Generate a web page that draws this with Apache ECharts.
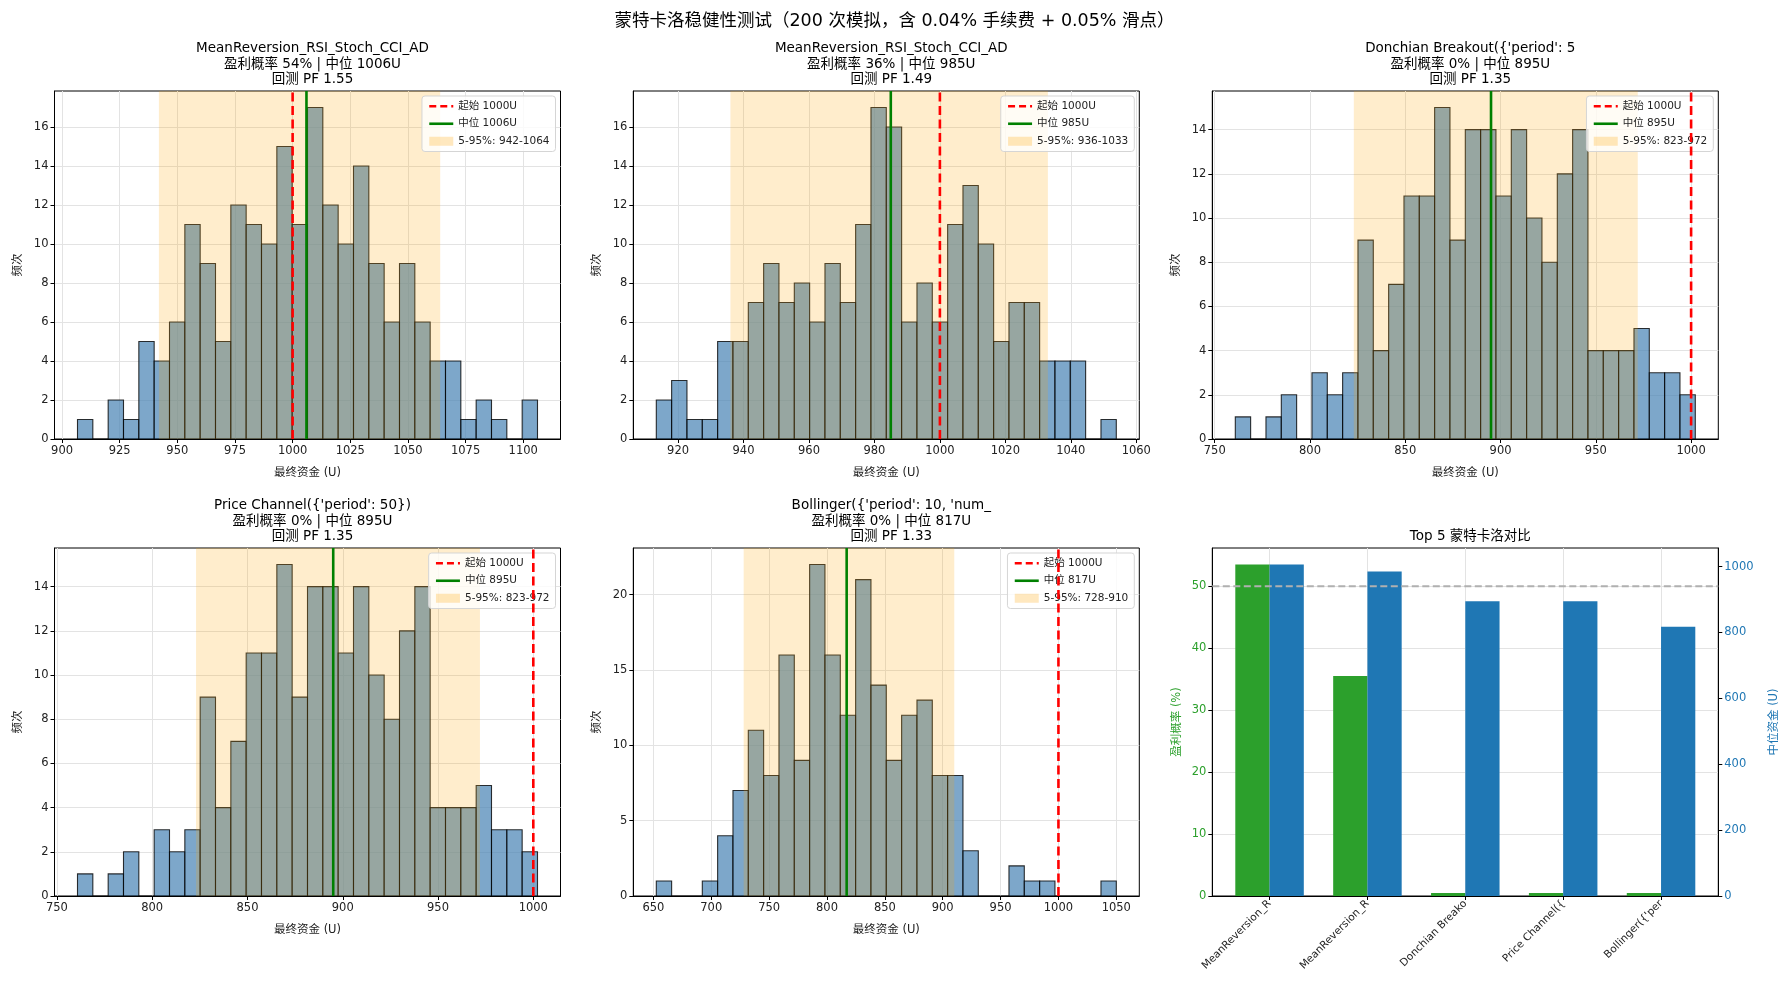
<!DOCTYPE html>
<html><head><meta charset="utf-8">
<script src="https://cdn.jsdelivr.net/npm/echarts@6/dist/echarts.min.js"></script>
<style>html,body{margin:0;padding:0;background:#fff}#c{width:1789px;height:985px}</style>
</head><body><div id="c"></div>
<script>
// ---------------- data ----------------
const suptitle = '蒙特卡洛稳健性测试（200 次模拟，含 0.04% 手续费 + 0.05% 滑点）';

const p1Title = ['MeanReversion_RSI_Stoch_CCI_AD', '盈利概率 54% | 中位 1006U', '回测 PF 1.55'];
const p1Counts = [1,0,2,1,5,4,6,11,9,5,12,11,10,15,11,17,12,10,14,9,6,9,6,4,4,1,2,1,0,2];
const p1BinRange = [906.7, 1106.2];
const p1Median = 1006, p1Band = [942, 1064];
const p1XTicks = [900,925,950,975,1000,1025,1050,1075,1100];
const p1YTicks = [0,2,4,6,8,10,12,14,16];

const p2Title = ['MeanReversion_RSI_Stoch_CCI_AD', '盈利概率 36% | 中位 985U', '回测 PF 1.49'];
const p2Counts = [2,3,1,1,5,5,7,9,7,8,6,9,7,11,17,16,6,8,6,11,13,10,5,7,7,4,4,4,0,1];
const p2BinRange = [913.35, 1053.9];
const p2Median = 985, p2Band = [936, 1033];
const p2XTicks = [920,940,960,980,1000,1020,1040,1060];
const p2YTicks = [0,2,4,6,8,10,12,14,16];

const p3Title = ["Donchian Breakout({'period': 5", '盈利概率 0% | 中位 895U', '回测 PF 1.35'];
const p3Counts = [1,0,1,2,0,3,2,3,9,4,7,11,11,15,9,14,14,11,14,10,8,12,14,4,4,4,5,3,3,2];
const p3BinRange = [760.8, 1002.2];
const p3Median = 895, p3Band = [823, 972];
const p3XTicks = [750,800,850,900,950,1000];
const p3YTicks = [0,2,4,6,8,10,12,14];

const p4Title = ["Price Channel({'period': 50})", '盈利概率 0% | 中位 895U', '回测 PF 1.35'];
const p4Counts = [1,0,1,2,0,3,2,3,9,4,7,11,11,15,9,14,14,11,14,10,8,12,14,4,4,4,5,3,3,2];
const p4BinRange = [760.8, 1002.2];
const p4Median = 895, p4Band = [823, 972];
const p4XTicks = [750,800,850,900,950,1000];
const p4YTicks = [0,2,4,6,8,10,12,14];

const p5Title = ["Bollinger({'period': 10, 'num_", '盈利概率 0% | 中位 817U', '回测 PF 1.33'];
const p5Counts = [1,0,0,1,4,7,11,8,16,9,22,16,12,21,14,9,12,13,8,8,3,0,0,2,1,1,0,0,0,1];
const p5BinRange = [652.5, 1050];
const p5Median = 817, p5Band = [728, 910];
const p5XTicks = [650,700,750,800,850,900,950,1000,1050];
const p5YTicks = [0,5,10,15,20];

const startCapital = 1000;

const cmpTitle = 'Top 5 蒙特卡洛对比';
const cmpNames = ['MeanReversion_R', 'MeanReversion_R', 'Donchian Breako', 'Price Channel({', "Bollinger({'per"];
const cmpWinRate = [53.5, 35.5, 0.5, 0.5, 0.5];
const cmpMedian = [1006, 985, 895, 895, 817];
const cmpWinTicks = [0,10,20,30,40,50];
const cmpMedTicks = [0,200,400,600,800,1000];
const cmpRefLine = 50;

// ---------------- layout ----------------
const W = 1789, H = 985;
const FONT = 'DejaVu Sans, Noto Sans CJK SC, sans-serif';
const gridsPx = [
  {left:54.5, top:91, width:506, height:348},
  {left:633.3, top:91, width:506, height:348},
  {left:1212.3, top:91, width:506, height:348},
  {left:54.5, top:548, width:506, height:348},
  {left:633.3, top:548, width:506, height:348},
  {left:1212.3, top:548, width:506, height:348}
];

const panels = [
  {title:p1Title, counts:p1Counts, range:p1BinRange, median:p1Median, band:p1Band, xt:p1XTicks, yt:p1YTicks},
  {title:p2Title, counts:p2Counts, range:p2BinRange, median:p2Median, band:p2Band, xt:p2XTicks, yt:p2YTicks},
  {title:p3Title, counts:p3Counts, range:p3BinRange, median:p3Median, band:p3Band, xt:p3XTicks, yt:p3YTicks},
  {title:p4Title, counts:p4Counts, range:p4BinRange, median:p4Median, band:p4Band, xt:p4XTicks, yt:p4YTicks},
  {title:p5Title, counts:p5Counts, range:p5BinRange, median:p5Median, band:p5Band, xt:p5XTicks, yt:p5YTicks}
];

const tickFs = 11.5;
const grid = [], xAxis = [], yAxis = [], series = [], legend = [];
const title = [{text: suptitle, left:'center', top:8, textStyle:{fontSize:17.5, fontWeight:'normal', color:'#000', fontFamily:FONT}}];

function valAxisBase(gi, min, max, ticks) {
  return {
    gridIndex: gi, type:'value', min, max,
    axisLine:{show:true, onZero:false, lineStyle:{color:'#000', width:1}},
    axisTick:{show:true, customValues:ticks, length:4, lineStyle:{color:'#000'}},
    axisLabel:{customValues:ticks, fontSize:tickFs, color:'#222', fontFamily:FONT, margin:6, formatter:v=>String(v)},
    splitLine:{show:true, lineStyle:{color:'#e3e3e3', width:1}}
  };
}

function histRender(params, api) {
  const a = api.coord([api.value(0), api.value(2)]);
  const b = api.coord([api.value(1), 0]);
  return {type:'rect', shape:{x:a[0], y:a[1], width:b[0]-a[0], height:b[1]-a[1]},
    style:{fill:'rgba(70,130,180,0.7)', stroke:'rgba(0,0,0,0.8)', lineWidth:1.1}};
}
function bandRender(params, api) {
  const cs = params.coordSys;
  const a = api.coord([api.value(0), 0]);
  const b = api.coord([api.value(1), 0]);
  return {type:'rect', shape:{x:a[0], y:cs.y, width:b[0]-a[0], height:cs.height},
    style:{fill:'rgba(255,165,0,0.2)'}};
}

panels.forEach((p, i) => {
  const g = gridsPx[i];
  grid.push({left:g.left, top:g.top, width:g.width, height:g.height, show:true, borderColor:'#000', borderWidth:1, backgroundColor:'transparent'});
  const span = p.range[1] - p.range[0];
  const xmin = p.range[0] - span*0.05, xmax = p.range[1] + span*0.05;
  const ymax = Math.max(...p.counts) * 1.05;
  const xa = valAxisBase(i, xmin, xmax, p.xt);
  xa.name = '最终资金 (U)'; xa.nameLocation = 'middle'; xa.nameGap = 28;
  xa.nameTextStyle = {fontSize:11.5, color:'#222', fontFamily:FONT};
  xAxis.push(xa);
  const ya = valAxisBase(i, 0, ymax, p.yt);
  ya.name = '频次'; ya.nameLocation = 'middle'; ya.nameGap = 31; ya.nameRotate = 90;
  ya.nameTextStyle = {fontSize:11.5, color:'#222', fontFamily:FONT};
  yAxis.push(ya);

  const w = span / p.counts.length;
  const binData = p.counts.map((c, k) => [p.range[0] + k*w, p.range[0] + (k+1)*w, c]);
  series.push({type:'custom', name:'hist'+i, xAxisIndex:i, yAxisIndex:i, z:2, renderItem:histRender,
    encode:{x:[0,1], y:2}, data:binData, silent:true});
  const bandName = '5-95%: ' + p.band[0] + '-' + p.band[1];
  series.push({type:'custom', name:bandName, xAxisIndex:i, yAxisIndex:i, z:3, renderItem:bandRender,
    encode:{x:[0,1]}, data:[[p.band[0], p.band[1]]], itemStyle:{color:'rgba(255,165,0,0.25)'}, silent:true});
  const startName = '起始 ' + startCapital + 'U';
  series.push({type:'line', name:startName, xAxisIndex:i, yAxisIndex:i, z:5, symbol:'none',
    data:[[startCapital, 0], [startCapital, ymax]], lineStyle:{color:'#ff0000', width:2.6, type:[9,4.5]},
    itemStyle:{color:'#ff0000'}, silent:true});
  const medName = '中位 ' + p.median + 'U';
  series.push({type:'line', name:medName, xAxisIndex:i, yAxisIndex:i, z:4, symbol:'none',
    data:[[p.median, 0], [p.median, ymax]], lineStyle:{color:'#008000', width:2.6},
    itemStyle:{color:'#008000'}, silent:true});

  legend.push({orient:'vertical', right: W - (g.left + g.width - 5), top: g.top + 5,
    selectedMode:false, itemWidth:24, itemHeight:9, itemGap:7,
    backgroundColor:'rgba(255,255,255,0.8)', borderColor:'#d5d5d5', borderWidth:1, borderRadius:3,
    padding:[5,6,5,6],
    textStyle:{fontSize:10.5, color:'#222', fontFamily:FONT},
    data:[
      {name:startName, itemStyle:{opacity:0}, lineStyle:{color:'#ff0000', width:2.6, type:[7,4]}},
      {name:medName, itemStyle:{opacity:0}, lineStyle:{color:'#008000', width:2.6, type:'solid'}},
      {name:bandName, icon:'rect', itemStyle:{color:'rgba(255,165,0,0.25)'}}
    ]});

  title.push({text:p.title.join('\n'), left: g.left + g.width/2, top: g.top - 55, textAlign:'center',
    textStyle:{fontSize:13.5, fontWeight:'normal', lineHeight:15.5, color:'#000', fontFamily:FONT}});
});

// ---------------- comparison panel ----------------
{
  const gi = 5, g = gridsPx[gi];
  grid.push({left:g.left, top:g.top, width:g.width, height:g.height, show:true, borderColor:'#000', borderWidth:1, backgroundColor:'transparent'});
  const idx = cmpNames.map((_, i) => i);
  const xa = valAxisBase(gi, -0.585, cmpNames.length - 1 + 0.585, idx);
  xa.axisLabel.formatter = v => cmpNames[Math.round(v)];
  xa.axisLabel.rotate = 45; xa.axisLabel.fontSize = 10.5; xa.axisLabel.margin = 6;
  xAxis.push(xa);
  const yl = valAxisBase(gi, 0, Math.max(...cmpWinRate) * 1.05, cmpWinTicks);
  yl.axisLabel.color = '#2ca02c';
  yl.name = '盈利概率 (%)'; yl.nameLocation = 'middle'; yl.nameGap = 30; yl.nameRotate = 90;
  yl.nameTextStyle = {fontSize:11.5, color:'#2ca02c', fontFamily:FONT};
  yAxis.push(yl); // index 5
  const yr = valAxisBase(gi, 0, Math.max(...cmpMedian) * 1.05, cmpMedTicks);
  yr.position = 'right'; yr.splitLine = {show:false};
  yr.axisLabel.color = '#1f77b4';
  yr.name = '中位资金 (U)'; yr.nameLocation = 'middle'; yr.nameGap = 50; yr.nameRotate = 90;
  yr.nameTextStyle = {fontSize:11.5, color:'#1f77b4', fontFamily:FONT};
  yAxis.push(yr); // index 6

  const barW = 0.35;
  function barRender(color) {
    return function(params, api) {
      const a = api.coord([api.value(0), api.value(2)]);
      const b = api.coord([api.value(1), 0]);
      return {type:'rect', shape:{x:a[0], y:a[1], width:b[0]-a[0], height:b[1]-a[1]}, style:{fill:color}};
    };
  }
  series.push({type:'custom', name:'盈利概率', xAxisIndex:gi, yAxisIndex:5, z:2, renderItem:barRender('#2ca02c'),
    encode:{x:[0,1], y:2}, data:cmpWinRate.map((v, i) => [i - barW, i, v]), silent:true});
  series.push({type:'custom', name:'中位资金', xAxisIndex:gi, yAxisIndex:6, z:2, renderItem:barRender('#1f77b4'),
    encode:{x:[0,1], y:2}, data:cmpMedian.map((v, i) => [i, i + barW, v]), silent:true});
  series.push({type:'line', name:'ref50', xAxisIndex:gi, yAxisIndex:5, z:3, symbol:'none',
    data:[[-0.585, cmpRefLine], [cmpNames.length - 1 + 0.585, cmpRefLine]],
    lineStyle:{color:'#b0b0b0', width:2, type:[7,3.5]}, silent:true});
  title.push({text:cmpTitle, left: g.left + g.width/2, top: g.top - 23, textAlign:'center',
    textStyle:{fontSize:13.5, fontWeight:'normal', color:'#000', fontFamily:FONT}});
}

const chart = echarts.init(document.getElementById('c'), null, {renderer:'canvas', width:W, height:H});
chart.setOption({backgroundColor:'#fff', animation:false, title, grid, xAxis, yAxis, legend, series});
</script></body></html>
